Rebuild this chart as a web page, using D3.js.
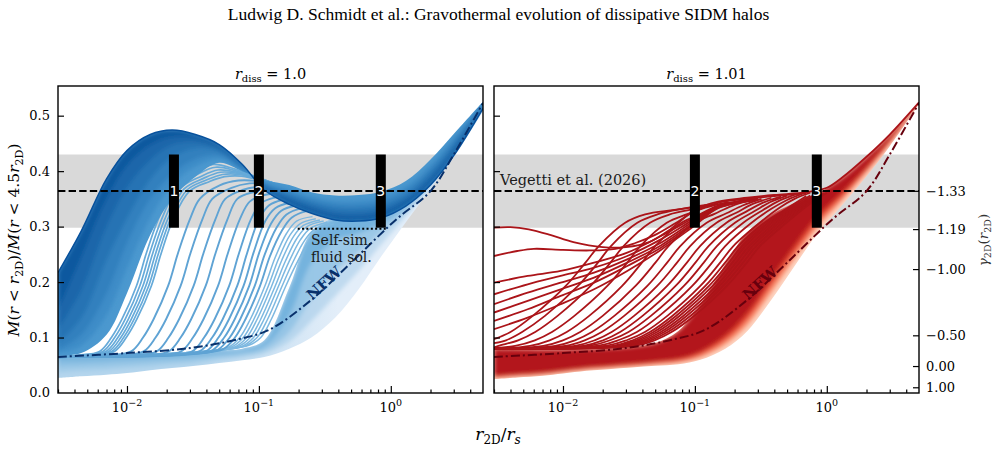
<!DOCTYPE html>
<html>
<head>
<meta charset="utf-8">
<script src="https://cdn.jsdelivr.net/npm/d3@7"></script>
<style>
  body { margin: 0; background: #fff; }
  svg text { font-family: "DejaVu Serif", serif; }
</style>
</head>
<body>
<svg id="fig" width="997" height="453"></svg>
<script>
// ---- axes / annotation values ----
const X_DOMAIN = [0.003, 5];
const Y_DOMAIN = [0, 0.5535];
const Y_TICKS = [0, 0.1, 0.2, 0.3, 0.4, 0.5];
const X_MAJOR = [0.01, 0.1, 1];
const X_MAJOR_EXP = ['\u22122', '\u22121', '0'];
const X_MINOR = [0.003, 0.004, 0.005, 0.006, 0.007, 0.008, 0.009,
                 0.02, 0.03, 0.04, 0.05, 0.06, 0.07, 0.08, 0.09,
                 0.2, 0.3, 0.4, 0.5, 0.6, 0.7, 0.8, 0.9, 2, 3, 4];
const GAMMA_AT = [0.3645, 0.2955, 0.2234, 0.104, 0.0486, 0.0103];
const GAMMA_LABELS = ['\u22121.33', '\u22121.19', '\u22121.00', '\u22120.50', '0.00', '1.00'];
const BAND = [0.298, 0.43];
const REF = 0.364;
const BLUE_BARS = [[0.0227, '1'], [0.1, '2'], [0.84, '3']];
const RED_BARS = [[0.1, '2'], [0.84, '3']];
const SELF_SIM = [[0.197, 0.296], [0.933, 0.296]];

// NFW reference profile
const NFW_X = [0.003, 0.01, 0.03, 0.07, 0.12, 0.25, 0.5, 1.1, 2, 3, 5];
const NFW_Y = [0.065, 0.072, 0.081, 0.097, 0.114, 0.168, 0.235, 0.313, 0.364, 0.43, 0.523];

// common radial grid for envelope curves
const GX = [0.003, 0.0045, 0.007, 0.01, 0.015, 0.022, 0.033, 0.05, 0.075, 0.11,
            0.17, 0.25, 0.38, 0.57, 0.85, 1.3, 2, 3, 5];

// ---- r_diss = 1.0 (blue) ----
// early (cored) fan, bottom edge to top edge
const B_CORE = [0.027, 0.030, 0.033, 0.036, 0.041, 0.045, 0.049, 0.054, 0.059, 0.065, 0.080, 0.100, 0.136, 0.187, 0.247, 0.308, 0.368, 0.425, 0.508];
const B_F1   = [0.037, 0.040, 0.042, 0.045, 0.048, 0.052, 0.055, 0.060, 0.064, 0.071, 0.093, 0.130, 0.175, 0.220, 0.268, 0.318, 0.371, 0.427, 0.509];
const B_F2   = [0.047, 0.049, 0.051, 0.053, 0.056, 0.058, 0.061, 0.065, 0.069, 0.077, 0.110, 0.170, 0.220, 0.254, 0.290, 0.327, 0.373, 0.428, 0.510];
const B_F3   = [0.057, 0.058, 0.060, 0.062, 0.063, 0.065, 0.067, 0.071, 0.075, 0.085, 0.140, 0.235, 0.275, 0.288, 0.306, 0.335, 0.376, 0.429, 0.511];
const B_TOP  = [0.068, 0.068, 0.069, 0.070, 0.071, 0.072, 0.074, 0.077, 0.080, 0.095, 0.190, 0.290, 0.316, 0.316, 0.320, 0.340, 0.378, 0.430, 0.513];

// late collapsed curves, latest (D0) to earliest of the dense group (D6)
const B_D0 = [0.217, 0.292, 0.386, 0.437, 0.466, 0.474, 0.466, 0.448, 0.412, 0.366, 0.340, 0.324, 0.312, 0.310, 0.316, 0.337, 0.375, 0.428, 0.513];
const B_D1 = [0.150, 0.245, 0.350, 0.410, 0.447, 0.462, 0.460, 0.444, 0.410, 0.369, 0.346, 0.331, 0.319, 0.317, 0.323, 0.344, 0.382, 0.434, 0.515];
const B_D2 = [0.115, 0.185, 0.300, 0.370, 0.420, 0.447, 0.452, 0.440, 0.408, 0.372, 0.352, 0.337, 0.326, 0.324, 0.330, 0.350, 0.390, 0.441, 0.517];
const B_D3 = [0.090, 0.135, 0.240, 0.315, 0.385, 0.425, 0.441, 0.435, 0.406, 0.375, 0.357, 0.343, 0.333, 0.332, 0.337, 0.357, 0.398, 0.448, 0.519];
const B_D4 = [0.078, 0.105, 0.180, 0.270, 0.350, 0.395, 0.422, 0.428, 0.404, 0.378, 0.362, 0.349, 0.340, 0.339, 0.345, 0.365, 0.405, 0.455, 0.521];
const B_D5 = [0.072, 0.085, 0.140, 0.225, 0.315, 0.375, 0.408, 0.421, 0.402, 0.381, 0.367, 0.355, 0.347, 0.347, 0.353, 0.373, 0.413, 0.461, 0.523];
const B_D6 = [0.068, 0.072, 0.105, 0.180, 0.285, 0.350, 0.390, 0.415, 0.400, 0.384, 0.375, 0.362, 0.356, 0.357, 0.363, 0.382, 0.421, 0.467, 0.525];

// tight group of six curves right of the dense block
const B_CLUSTER = [
  [[0.003,0.064],[0.00419,0.068],[0.00619,0.075],[0.00762,0.100],[0.00916,0.133],[0.0118,0.193],[0.01406,0.253],[0.01726,0.313],[0.0230,0.373],[0.032,0.398],[0.045,0.412],[0.065,0.404],[0.09,0.392],[0.13,0.378]],
  [[0.003,0.064],[0.00444,0.068],[0.00656,0.075],[0.00807,0.100],[0.0097,0.133],[0.0125,0.193],[0.0149,0.253],[0.0183,0.313],[0.0244,0.372],[0.034,0.394],[0.047,0.407],[0.066,0.401],[0.09,0.391],[0.13,0.378]],
  [[0.003,0.064],[0.00469,0.068],[0.00693,0.075],[0.00853,0.100],[0.01025,0.133],[0.0132,0.193],[0.01573,0.253],[0.01931,0.313],[0.0257,0.370],[0.036,0.390],[0.049,0.402],[0.068,0.398],[0.09,0.390],[0.13,0.378]],
  [[0.003,0.064],[0.00494,0.068],[0.00729,0.075],[0.00898,0.100],[0.01079,0.133],[0.0139,0.193],[0.01656,0.253],[0.02033,0.313],[0.0271,0.368],[0.038,0.387],[0.051,0.398],[0.070,0.396],[0.09,0.389],[0.13,0.378]],
  [[0.003,0.064],[0.00518,0.068],[0.00766,0.075],[0.00943,0.100],[0.01133,0.133],[0.0146,0.193],[0.01739,0.253],[0.02135,0.313],[0.0285,0.366],[0.040,0.384],[0.053,0.394],[0.072,0.394],[0.09,0.388],[0.13,0.378]],
  [[0.003,0.064],[0.00543,0.068],[0.00803,0.075],[0.00988,0.100],[0.01188,0.133],[0.0153,0.193],[0.01823,0.253],[0.02239,0.313],[0.0298,0.364],[0.042,0.381],[0.055,0.390],[0.074,0.391],[0.09,0.387],[0.13,0.378]]
];

// widely spaced collapsing curves
const B_SPARSE = [
  [[0.003,0.065],[0.00728,0.068],[0.01076,0.075],[0.01324,0.100],[0.01591,0.133],[0.0205,0.193],[0.02442,0.253],[0.02997,0.313],[0.03563,0.350],[0.05,0.374],[0.07,0.383],[0.1,0.382],[0.14,0.376]],
  [[0.003,0.065],[0.00905,0.068],[0.01339,0.075],[0.01647,0.100],[0.01979,0.133],[0.0255,0.193],[0.03037,0.253],[0.03728,0.313],[0.04432,0.350],[0.062,0.370],[0.085,0.378],[0.12,0.377],[0.16,0.372]],
  [[0.003,0.065],[0.01136,0.068],[0.0168,0.075],[0.02067,0.100],[0.02483,0.133],[0.032,0.193],[0.03811,0.253],[0.04678,0.313],[0.05562,0.350],[0.075,0.366],[0.1,0.372],[0.13,0.372],[0.18,0.368]],
  [[0.003,0.065],[0.01402,0.068],[0.02074,0.075],[0.02552,0.100],[0.03065,0.133],[0.0395,0.193],[0.04704,0.253],[0.05775,0.313],[0.06865,0.350],[0.09,0.362],[0.12,0.366],[0.16,0.366],[0.2,0.363]],
  [[0.003,0.065],[0.0174,0.068],[0.02573,0.075],[0.03165,0.100],[0.03802,0.133],[0.049,0.193],[0.05836,0.253],[0.07164,0.313],[0.08516,0.345],[0.11,0.357],[0.15,0.360],[0.2,0.360],[0.25,0.356]],
  [[0.003,0.065],[0.02112,0.068],[0.03124,0.075],[0.03844,0.100],[0.04617,0.133],[0.0595,0.193],[0.07086,0.253],[0.08699,0.313],[0.1034,0.342],[0.13,0.352],[0.17,0.355],[0.25,0.352]],
  [[0.003,0.066],[0.02432,0.069],[0.03596,0.076],[0.04425,0.100],[0.05316,0.133],[0.0685,0.193],[0.08158,0.253],[0.1001,0.313],[0.119,0.338],[0.15,0.348],[0.2,0.350],[0.3,0.345]],
  [[0.003,0.066],[0.02716,0.069],[0.04016,0.076],[0.04942,0.100],[0.05936,0.133],[0.0765,0.193],[0.09111,0.253],[0.1118,0.310],[0.133,0.333],[0.17,0.343],[0.22,0.345],[0.3,0.340]],
  [[0.003,0.066],[0.030,0.070],[0.04436,0.077],[0.05459,0.100],[0.06557,0.133],[0.0845,0.193],[0.1006,0.253],[0.1235,0.305],[0.147,0.328],[0.19,0.338],[0.25,0.340],[0.35,0.335]],
  [[0.003,0.066],[0.033,0.071],[0.04883,0.078],[0.06008,0.100],[0.07217,0.133],[0.093,0.193],[0.1108,0.250],[0.136,0.298],[0.162,0.322],[0.21,0.333],[0.28,0.335],[0.38,0.330]],
  [[0.003,0.066],[0.03621,0.072],[0.05355,0.079],[0.06589,0.100],[0.07915,0.133],[0.102,0.193],[0.1215,0.247],[0.149,0.292],[0.177,0.316],[0.23,0.328],[0.3,0.330],[0.4,0.326]]
];

// dense light stripes just before the fan
const B_STRIPES = [
  [[0.003,0.067],[0.03,0.073],[0.0583,0.082],[0.0717,0.100],[0.0861,0.133],[0.111,0.193],[0.1322,0.243],[0.1623,0.288],[0.193,0.310],[0.255,0.318]],
  [[0.003,0.067],[0.03,0.073],[0.0620,0.083],[0.0762,0.100],[0.0916,0.133],[0.118,0.193],[0.1405,0.241],[0.1725,0.285],[0.205,0.305],[0.27,0.314]],
  [[0.003,0.067],[0.03,0.073],[0.0656,0.083],[0.0808,0.100],[0.0970,0.133],[0.125,0.193],[0.1489,0.239],[0.1828,0.282],[0.2173,0.302],[0.29,0.312]],
  [[0.003,0.067],[0.03,0.073],[0.0698,0.084],[0.0859,0.100],[0.1032,0.133],[0.133,0.193],[0.1584,0.237],[0.1944,0.279],[0.2311,0.300],[0.31,0.310]],
  [[0.003,0.067],[0.03,0.073],[0.0740,0.084],[0.0911,0.100],[0.1094,0.133],[0.141,0.193],[0.1679,0.235],[0.2061,0.276],[0.245,0.297],[0.33,0.308]],
  [[0.003,0.067],[0.03,0.073],[0.0788,0.085],[0.0969,0.100],[0.1164,0.133],[0.150,0.193],[0.1787,0.233],[0.2193,0.273],[0.261,0.294],[0.35,0.306]],
  [[0.003,0.067],[0.03,0.073],[0.0840,0.086],[0.1034,0.100],[0.1242,0.133],[0.160,0.193],[0.1906,0.231],[0.2339,0.270],[0.278,0.292],[0.37,0.305]]
];

// ---- r_diss = 1.01 (red) ----
const R_CORE = [0.025, 0.028, 0.031, 0.035, 0.040, 0.043, 0.046, 0.049, 0.052, 0.060, 0.080, 0.112, 0.168, 0.229, 0.288, 0.338, 0.391, 0.445, 0.521];
const R_F1   = [0.027, 0.030, 0.033, 0.037, 0.042, 0.045, 0.048, 0.051, 0.055, 0.064, 0.087, 0.122, 0.181, 0.241, 0.298, 0.346, 0.397, 0.449, 0.522];
const R_F2   = [0.029, 0.032, 0.035, 0.039, 0.044, 0.047, 0.050, 0.054, 0.058, 0.069, 0.095, 0.133, 0.194, 0.253, 0.308, 0.353, 0.402, 0.452, 0.523];
const R_F3   = [0.031, 0.034, 0.037, 0.041, 0.046, 0.049, 0.053, 0.057, 0.062, 0.075, 0.104, 0.145, 0.207, 0.266, 0.319, 0.361, 0.407, 0.456, 0.523];
const R_TOP  = [0.080, 0.079, 0.078, 0.078, 0.079, 0.080, 0.083, 0.090, 0.112, 0.160, 0.232, 0.290, 0.322, 0.343, 0.360, 0.387, 0.425, 0.465, 0.524];

// two latest curves (highest at small r)
const R_LATE = [
  [[0.003,0.298],[0.004,0.299],[0.0055,0.295],[0.008,0.285],[0.012,0.272],[0.02,0.263],[0.03,0.263],[0.045,0.272],[0.065,0.295],[0.1,0.330],[0.15,0.345],[0.25,0.352],[0.4,0.357],[0.7,0.362],[1.0,0.370],[1.3,0.388],[2,0.426],[3,0.466],[5,0.524]],
  [[0.003,0.247],[0.0045,0.256],[0.006,0.260],[0.01,0.258],[0.016,0.257],[0.025,0.260],[0.035,0.270],[0.05,0.285],[0.07,0.305],[0.1,0.328],[0.15,0.343],[0.25,0.350],[0.4,0.355],[0.7,0.360]]
];

// slowly rising curves that start high at small r
const R_SLOW_X = [0.003, 0.0054, 0.0096, 0.0172, 0.0307, 0.0552, 0.0985, 0.15, 0.3];
const R_SLOW = [
  [0.199, 0.211, 0.220, 0.235, 0.253, 0.283, 0.316, 0.338, 0.350],
  [0.178, 0.196, 0.211, 0.226, 0.247, 0.277, 0.313, 0.337, 0.350],
  [0.160, 0.181, 0.199, 0.217, 0.241, 0.271, 0.310, 0.336, 0.349],
  [0.145, 0.166, 0.187, 0.208, 0.235, 0.266, 0.307, 0.335, 0.349],
  [0.130, 0.151, 0.175, 0.199, 0.229, 0.262, 0.304, 0.334, 0.348],
  [0.115, 0.136, 0.160, 0.187, 0.220, 0.258, 0.301, 0.333, 0.348]
];

// curves rising out of the cored bundle
const R_SPARSE = [
  [[0.003,0.097],[0.004,0.110],[0.0059,0.139],[0.0105,0.193],[0.0148,0.235],[0.0187,0.265],[0.0296,0.307],[0.042,0.322],[0.07,0.330],[0.12,0.338]],
  [[0.003,0.090],[0.0037,0.095],[0.0049,0.110],[0.0073,0.139],[0.013,0.193],[0.0184,0.235],[0.0231,0.265],[0.0366,0.307],[0.052,0.322],[0.08,0.332],[0.13,0.340]],
  [[0.003,0.082],[0.00324,0.085],[0.00457,0.095],[0.00616,0.110],[0.0091,0.139],[0.0162,0.193],[0.0229,0.235],[0.0288,0.265],[0.0457,0.307],[0.0645,0.322],[0.1,0.332],[0.15,0.342]],
  [[0.003,0.081],[0.00434,0.085],[0.00612,0.095],[0.00825,0.110],[0.0122,0.139],[0.0217,0.193],[0.0307,0.235],[0.0386,0.265],[0.0612,0.307],[0.0864,0.322],[0.12,0.334],[0.18,0.344]],
  [[0.003,0.080],[0.00562,0.085],[0.00792,0.095],[0.01068,0.110],[0.0158,0.139],[0.0281,0.193],[0.0397,0.235],[0.050,0.265],[0.0792,0.307],[0.112,0.322],[0.15,0.335],[0.22,0.346]],
  [[0.003,0.080],[0.0071,0.085],[0.0100,0.095],[0.0135,0.110],[0.020,0.139],[0.0355,0.193],[0.0502,0.235],[0.0631,0.265],[0.100,0.307],[0.141,0.323],[0.19,0.337],[0.27,0.348]],
  [[0.003,0.080],[0.00872,0.085],[0.0123,0.095],[0.01657,0.110],[0.0245,0.139],[0.0436,0.193],[0.0616,0.235],[0.0775,0.265],[0.1229,0.307],[0.1735,0.324],[0.23,0.338],[0.32,0.350]],
  [[0.003,0.080],[0.01036,0.085],[0.0146,0.095],[0.01968,0.110],[0.0291,0.139],[0.0518,0.193],[0.0732,0.235],[0.0921,0.265],[0.146,0.307],[0.206,0.325],[0.27,0.340],[0.38,0.352]],
  [[0.003,0.080],[0.01232,0.085],[0.01737,0.095],[0.0234,0.110],[0.0346,0.139],[0.0616,0.193],[0.087,0.235],[0.1095,0.265],[0.1736,0.307],[0.245,0.327],[0.32,0.342],[0.45,0.354]],
  [[0.003,0.080],[0.01428,0.085],[0.02013,0.095],[0.02713,0.110],[0.0401,0.139],[0.0714,0.193],[0.1009,0.235],[0.127,0.265],[0.2012,0.307],[0.284,0.328],[0.37,0.344],[0.5,0.356]],
  [[0.003,0.080],[0.01652,0.086],[0.0233,0.096],[0.0314,0.110],[0.0464,0.139],[0.0826,0.193],[0.1167,0.235],[0.1469,0.265],[0.2328,0.307],[0.329,0.330],[0.43,0.346],[0.58,0.358]],
  [[0.003,0.080],[0.0191,0.086],[0.0269,0.096],[0.0363,0.110],[0.0537,0.139],[0.0955,0.193],[0.135,0.235],[0.1698,0.265],[0.269,0.307],[0.38,0.332],[0.5,0.348],[0.65,0.359]],
  [[0.003,0.080],[0.022,0.086],[0.031,0.096],[0.0418,0.110],[0.0618,0.139],[0.110,0.193],[0.1554,0.235],[0.1956,0.265],[0.310,0.307],[0.438,0.334],[0.57,0.350],[0.75,0.361]]
];

// tightly packed stripes next to the solid fan
const R_STRIPES = [
  [[0.003,0.080],[0.024,0.085],[0.0338,0.095],[0.0456,0.110],[0.0674,0.139],[0.120,0.193],[0.1696,0.235],[0.2134,0.265],[0.3382,0.307],[0.4776,0.330],[0.70,0.355]],
  [[0.003,0.080],[0.0256,0.085],[0.0361,0.095],[0.0486,0.110],[0.0719,0.139],[0.128,0.193],[0.1809,0.235],[0.2276,0.265],[0.3607,0.307],[0.5094,0.331],[0.75,0.356]],
  [[0.003,0.080],[0.0272,0.085],[0.0384,0.095],[0.0517,0.110],[0.0764,0.139],[0.136,0.193],[0.1922,0.235],[0.2418,0.265],[0.3832,0.307],[0.5413,0.332],[0.80,0.357]],
  [[0.003,0.080],[0.0290,0.085],[0.0409,0.095],[0.0551,0.110],[0.0815,0.139],[0.145,0.193],[0.2049,0.235],[0.2578,0.265],[0.4086,0.307],[0.5771,0.333],[0.85,0.358]],
  [[0.003,0.080],[0.0308,0.085],[0.0434,0.095],[0.0585,0.110],[0.0865,0.139],[0.154,0.193],[0.2176,0.235],[0.2738,0.265],[0.4340,0.307],[0.6129,0.334],[0.90,0.359]],
  [[0.003,0.080],[0.0328,0.085],[0.0462,0.095],[0.0623,0.110],[0.0922,0.139],[0.164,0.193],[0.2317,0.235],[0.2916,0.265],[0.4622,0.307],[0.6527,0.335],[0.95,0.360]],
  [[0.003,0.080],[0.0350,0.085],[0.0494,0.095],[0.0665,0.110],[0.0984,0.139],[0.175,0.193],[0.2473,0.235],[0.3112,0.265],[0.4932,0.307],[0.6965,0.336],[1.00,0.361]]
];

// ---- drawing ----
const svg = d3.select('#fig');
const W = 425, H = 307, TOP = 86;
const x = d3.scaleLog().domain(X_DOMAIN).range([0, W]);
const y = d3.scaleLinear().domain(Y_DOMAIN).range([H, 0]);
const smooth = d3.curveCatmullRom.alpha(0.5);
const line = d3.line().x(d => x(d[0])).y(d => y(d[1])).curve(smooth);
const area = d3.area().x(d => x(d.x)).y0(d => y(d.lo)).y1(d => y(d.hi)).curve(smooth);
const onGrid = ys => GX.map((g, i) => [g, ys[i]]);
const between = (lo, hi) => GX.map((g, i) => ({ x: g, lo: lo[i], hi: hi[i] }));

const defs = svg.append('defs');
// soft blur so stacked colour bands read as a gradient
defs.append('filter').attr('id', 'soft')
  .attr('x', '-5%').attr('y', '-5%').attr('width', '110%').attr('height', '110%')
  .append('feGaussianBlur').attr('stdDeviation', 2.2);

// horizontal gradients for the light blue fan
const fanColors = [['#b4d5ed', '#e3eef9'], ['#a0cbe8', '#c0daef'], ['#8cc0e3', '#9bc8e7'], ['#76b3dd', '#74b3de']];
fanColors.forEach((c, i) => {
  const gr = defs.append('linearGradient').attr('id', 'fan' + i)
    .attr('gradientUnits', 'userSpaceOnUse')
    .attr('x1', x(0.03)).attr('x2', x(0.4)).attr('y1', 0).attr('y2', 0);
  gr.append('stop').attr('offset', 0).attr('stop-color', c[0]);
  gr.append('stop').attr('offset', 1).attr('stop-color', c[1]);
});

// stacked bands: outer area drawn sharp, inner ones blurred and clipped to it
function stackedBands(sel, id, outer, inner, fills) {
  sel.append('clipPath').attr('id', id).append('path').attr('d', area(outer));
  sel.append('path').attr('d', area(outer)).attr('fill', fills[0]);
  const soft = sel.append('g').attr('clip-path', `url(#${id})`)
    .append('g').attr('filter', 'url(#soft)');
  inner.forEach((band, i) => {
    soft.append('path').attr('d', area(band)).attr('fill', fills[i + 1]);
  });
}

function makePanel(left, id) {
  const g = svg.append('g').attr('transform', `translate(${left},${TOP})`);
  g.append('clipPath').attr('id', id).append('rect').attr('width', W).attr('height', H);
  const plot = g.append('g').attr('clip-path', `url(#${id})`);
  plot.append('rect')
    .attr('x', 0).attr('width', W)
    .attr('y', y(BAND[1])).attr('height', y(BAND[0]) - y(BAND[1]))
    .attr('fill', '#d9d9d9');
  return { g, plot };
}

function drawLines(sel, curves, color, width) {
  sel.selectAll(null).data(curves).enter().append('path')
    .attr('d', line).attr('fill', 'none')
    .attr('stroke', color).attr('stroke-width', width);
}

function overlays(p, bars, nfwColor) {
  p.plot.append('line')
    .attr('x1', 0).attr('x2', W).attr('y1', y(REF)).attr('y2', y(REF))
    .attr('stroke', '#000').attr('stroke-width', 2).attr('stroke-dasharray', '7.4,3.2');
  p.plot.append('path')
    .attr('d', line(NFW_X.map((v, i) => [v, NFW_Y[i]])))
    .attr('fill', 'none').attr('stroke', nfwColor).attr('stroke-width', 2)
    .attr('stroke-dasharray', '9,3,2,3');
  bars.forEach(([bx, lab]) => {
    p.plot.append('rect')
      .attr('x', x(bx) - 5).attr('width', 10)
      .attr('y', y(BAND[1])).attr('height', y(BAND[0]) - y(BAND[1]))
      .attr('fill', '#000');
    p.plot.append('text')
      .attr('x', x(bx)).attr('y', y(REF) + 5)
      .attr('text-anchor', 'middle').attr('fill', '#fff')
      .attr('font-size', 14).style('font-family', '"DejaVu Sans", sans-serif')
      .text(lab);
  });
  p.plot.append('text')
    .attr('transform', `translate(266,197) rotate(-42)`)
    .attr('text-anchor', 'middle').attr('dy', '0.35em')
    .attr('font-size', 15).attr('font-weight', 'bold').attr('fill', nfwColor)
    .text('NFW');
}

function axes(p, leftLabels, gamma) {
  const g = p.g;
  const tickStyle = a => {
    a.select('.domain').remove();
    a.selectAll('line').attr('stroke', '#000').attr('stroke-width', 1.2);
  };
  g.append('g').attr('transform', `translate(0,${H})`)
    .call(d3.axisBottom(x).tickValues(X_MINOR).tickSize(-3.5).tickFormat(''))
    .call(tickStyle);
  g.append('g').attr('transform', `translate(0,${H})`)
    .call(d3.axisBottom(x).tickValues(X_MAJOR).tickSize(-7).tickFormat(''))
    .call(tickStyle);
  X_MAJOR.forEach((v, i) => {
    const t = g.append('text').attr('x', x(v)).attr('y', H + 19)
      .attr('text-anchor', 'middle').attr('font-size', 13);
    t.append('tspan').text('10');
    t.append('tspan').attr('dy', -6).attr('font-size', 9.5).text(X_MAJOR_EXP[i]);
  });
  const ya = g.append('g')
    .call(d3.axisLeft(y).tickValues(Y_TICKS.slice(1)).tickSize(-6)
      .tickFormat(leftLabels ? d3.format('.1f') : '').tickPadding(8))
    .call(tickStyle);
  if (leftLabels) {
    g.append('text').attr('x', -8).attr('y', H).attr('dy', '0.32em')
      .attr('text-anchor', 'end').attr('font-size', 13).text('0.0');
  }
  ya.selectAll('text').attr('font-size', 13).attr('font-family', 'DejaVu Serif').attr('fill', '#000');
  if (gamma) {
    const ga = g.append('g').attr('transform', `translate(${W},0)`)
      .call(d3.axisRight(y).tickValues(GAMMA_AT).tickSize(-6).tickPadding(7)
        .tickFormat((d, i) => GAMMA_LABELS[i]))
      .call(tickStyle);
    ga.selectAll('text').attr('font-size', 13).attr('font-family', 'DejaVu Serif').attr('fill', '#000');
  }
  g.append('rect').attr('width', W).attr('height', H)
    .attr('fill', 'none').attr('stroke', '#000').attr('stroke-width', 1.4);
}

// left panel
const L = makePanel(58, 'clipL');
stackedBands(L.plot, 'fanB', between(B_CORE, B_TOP),
  [between(B_F1, B_TOP), between(B_F2, B_TOP), between(B_F3, B_TOP)],
  ['url(#fan0)', 'url(#fan1)', 'url(#fan2)', 'url(#fan3)']);
drawLines(L.plot, B_STRIPES, '#7db8e0', 1.5);
drawLines(L.plot, B_SPARSE, '#5fa3d4', 1.9);
drawLines(L.plot, B_CLUSTER, '#66aad9', 1.7);
stackedBands(L.plot, 'denseB', between(B_D0, B_D6),
  [B_D5, B_D4, B_D3, B_D2, B_D1].map(hi => between(B_D0, hi)),
  ['#4b98cf', '#3e8cc7', '#3280be', '#2673b4', '#1a66aa', '#0e599f']);
L.plot.append('path').attr('d', line(onGrid(B_D0))).attr('fill', 'none')
  .attr('stroke', '#08519c').attr('stroke-width', 1.5);
overlays(L, BLUE_BARS, '#08306b');
L.plot.append('path').attr('d', d3.line().x(d => x(d[0])).y(d => y(d[1]))(SELF_SIM))
  .attr('stroke', '#000').attr('stroke-width', 2).attr('stroke-dasharray', '2,2.3');
const ss = L.g.append('text').attr('font-size', 14).attr('fill', '#1a1a1a');
ss.append('tspan').attr('x', 253).attr('y', 159).text('Self-sim.');
ss.append('tspan').attr('x', 253).attr('y', 176).text('fluid sol.');
axes(L, true, false);

// right panel
const R = makePanel(494, 'clipR');
stackedBands(R.plot, 'fanR', between(R_CORE, R_TOP),
  [between(R_F1, R_TOP), between(R_F2, R_TOP), between(R_F3, R_TOP)],
  ['#fdd5c2', '#fb9070', '#e0402e', '#b3161b']);
const red = '#ab1419';
drawLines(R.plot, R_STRIPES, red, 1.9);
drawLines(R.plot, R_SPARSE, red, 1.8);
drawLines(R.plot, R_SLOW.map(ys => R_SLOW_X.map((v, i) => [v, ys[i]])), red, 1.8);
drawLines(R.plot, R_LATE, red, 1.8);
overlays(R, RED_BARS, '#67000d');
R.g.append('text').attr('x', 6).attr('y', 99).attr('font-size', 14.5).attr('fill', '#1a1a1a')
  .text('Vegetti et al. (2026)');
axes(R, false, true);

// titles and axis labels
svg.append('text').attr('x', 498.5).attr('y', 20).attr('text-anchor', 'middle')
  .attr('font-size', 17.5).style('font-family', '"Liberation Serif", "Times New Roman", serif')
  .text('Ludwig D. Schmidt et al.: Gravothermal evolution of dissipative SIDM halos');

[[58 + W / 2, '1.0'], [494 + W / 2, '1.01']].forEach(([cx, val]) => {
  const t = svg.append('text').attr('x', cx).attr('y', 79).attr('text-anchor', 'middle').attr('font-size', 14.5);
  t.append('tspan').attr('font-style', 'italic').text('r');
  t.append('tspan').attr('dy', 3).attr('font-size', 10).text('diss');
  t.append('tspan').attr('dy', -3).text(' = ' + val);
});

const xl = svg.append('text').attr('x', 498).attr('y', 440).attr('text-anchor', 'middle').attr('font-size', 17);
xl.append('tspan').attr('font-style', 'italic').text('r');
xl.append('tspan').attr('dy', 4).attr('font-size', 12).text('2D');
xl.append('tspan').attr('dy', -4).text('/');
xl.append('tspan').attr('font-style', 'italic').text('r');
xl.append('tspan').attr('dy', 4).attr('font-size', 12).attr('font-style', 'italic').text('s');

const yl = svg.append('text').attr('transform', 'translate(19,240) rotate(-90)')
  .attr('text-anchor', 'middle').attr('font-size', 15.5);
const ylParts = [['M', 1, 0], ['(', 0, 0], ['r', 1, 0], [' < ', 0, 0], ['r', 1, 0], ['2D', 0, 1],
                 [')/', 0, -1], ['M', 1, 0], ['(', 0, 0], ['r', 1, 0], [' < 4.5', 0, 0], ['r', 1, 0], ['2D', 0, 1], [')', 0, -1]];
ylParts.forEach(([s, it, sub]) => {
  const ts = yl.append('tspan').text(s);
  if (it) ts.attr('font-style', 'italic');
  if (sub === 1) ts.attr('dy', 4).attr('font-size', 11);
  if (sub === -1) ts.attr('dy', -4);
});

const gl = svg.append('text').attr('transform', 'translate(988,240) rotate(-90)')
  .attr('text-anchor', 'middle').attr('font-size', 13.5).attr('fill', '#333');
gl.append('tspan').attr('font-style', 'italic').text('\u03b3');
gl.append('tspan').attr('dy', 3).attr('font-size', 9.5).text('2D');
gl.append('tspan').attr('dy', -3).text('(');
gl.append('tspan').attr('font-style', 'italic').text('r');
gl.append('tspan').attr('dy', 3).attr('font-size', 9.5).text('2D');
gl.append('tspan').attr('dy', -3).text(')');
</script>
</body>
</html>
